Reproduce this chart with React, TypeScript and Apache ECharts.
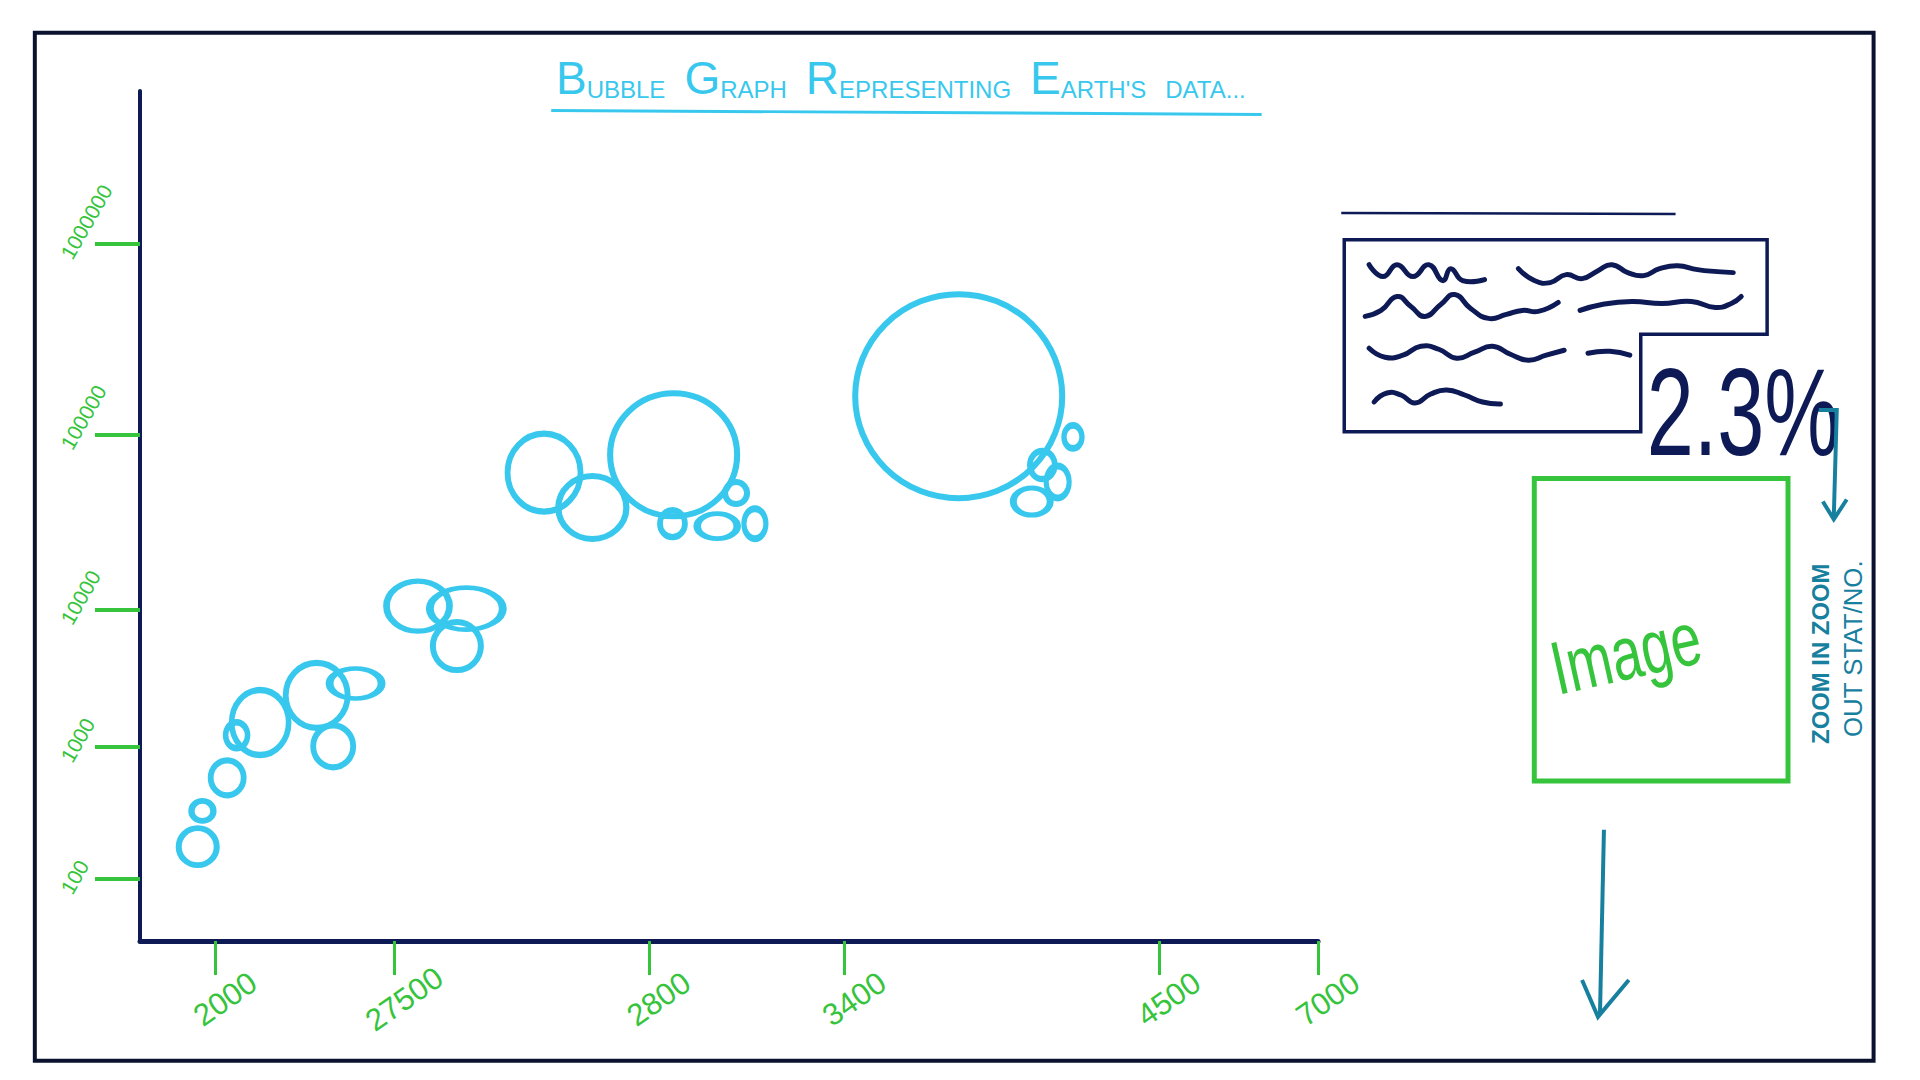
import { useEffect, useRef } from 'react';
import * as echarts from 'echarts';

// bubbles: position on the sketch's own axes (0-100 both ways), size in px
const bubbleX = [4.9, 5.3, 7.4, 8.2, 10.2, 15.0, 18.3, 16.4, 23.6, 27.7, 26.9, 34.3, 38.4, 45.3, 50.6, 45.2, 49.0, 52.2, 69.5, 79.2, 76.6, 77.9, 75.7];
const bubbleY = [11.1, 15.3, 19.2, 24.2, 25.7, 28.9, 30.3, 22.9, 39.4, 39.1, 34.7, 55.1, 51.0, 57.2, 52.7, 49.1, 48.8, 49.1, 64.1, 59.3, 56.0, 54.0, 51.7];
const bubbleW = [38, 22, 33, 22, 57, 62, 52, 40, 63, 73, 48, 73, 68, 127, 22, 25, 40, 22, 207, 18, 25, 23, 37];
const bubbleH = [37, 20, 35, 26, 65, 65, 30, 42, 50, 42, 48, 78, 63, 123, 22, 27, 25, 30, 204, 23, 28, 32, 27];

// hand drawn ticks sit at uneven places
const xTickPos = [6.4, 21.6, 43.2, 59.8, 86.5, 100];
const xTickLabels = ['2000', '27500', '2800', '3400', '4500', '7000'];
const yTickPos = [82.0, 59.6, 39.0, 22.8, 7.3];
const yTickLabels = ['1000000', '100000', '10000', '1000', '100'];

const CYAN = '#38c8ee';
const GREEN = '#35c43c';
const NAVY = '#0d1a55';
const TEAL = '#17809e';
const FRAME = '#0a1230';
const HAND = '"Liberation Sans Narrow", "Liberation Sans", "Noto Sans", sans-serif';
const ELLIPSE = 'path://M0,50A50,50,0,1,1,100,50A50,50,0,1,1,0,50Z';
const K = 0.995; // sheet scale

const pick = (pos: number[], labels: string[]) => (v: number) => {
  const i = pos.findIndex((p) => Math.abs(p - v) < 1e-6);
  return i >= 0 ? labels[i] : '';
};

const squiggles: number[][][] = [
  [[1376, 266], [1390, 278], [1404, 266], [1420, 278], [1436, 266], [1450, 282], [1458, 270], [1470, 282], [1492, 281]],
  [[1526, 270], [1542, 282], [1558, 284], [1574, 276], [1590, 280], [1606, 272], [1620, 266], [1636, 274], [1652, 277], [1668, 270], [1686, 267], [1706, 271], [1726, 273], [1742, 274]],
  [[1372, 318], [1388, 312], [1404, 298], [1418, 308], [1432, 318], [1448, 306], [1462, 296], [1478, 310], [1496, 320], [1514, 316], [1530, 312], [1546, 313], [1566, 304]],
  [[1588, 312], [1610, 306], [1640, 303], [1670, 305], [1700, 303], [1724, 309], [1740, 305], [1750, 298]],
  [[1376, 350], [1392, 359], [1410, 357], [1428, 348], [1446, 351], [1464, 360], [1482, 354], [1500, 348], [1518, 356], [1536, 362], [1554, 357], [1572, 352]],
  [[1596, 355], [1618, 353], [1638, 357]],
  [[1381, 404], [1394, 395], [1408, 397], [1422, 405], [1438, 396], [1454, 392], [1472, 397], [1490, 404], [1508, 406]],
];

export default function App() {
  const ref = useRef<HTMLDivElement>(null);

  useEffect(() => {
    document.body.style.margin = '0';
    if (!ref.current) return;
    const chart = echarts.init(ref.current, null, { renderer: 'svg' });

    const cap = { fontSize: 46, fontWeight: 'normal', fontFamily: HAND, color: CYAN, verticalAlign: 'bottom' };
    const low = { fontSize: 24, fontWeight: 'normal', fontFamily: HAND, color: CYAN, verticalAlign: 'bottom' };

    chart.setOption({
      animation: false,
      backgroundColor: '#ffffff',
      title: {
        left: 551,
        top: 50,
        text: '{c|B}{l|UBBLE}{g| }{c|G}{l|RAPH}{g| }{c|R}{l|EPRESENTING}{g| }{c|E}{l|ARTH\'S}{g| }{l|DATA...}',
        textStyle: {
          fontWeight: 'normal',
          rich: { c: cap, l: low, g: { width: 19, fontSize: 24 } },
        },
      },
      grid: { left: 140, right: 602, top: 91, bottom: 139 },
      xAxis: {
        type: 'value',
        min: 0,
        max: 100,
        splitLine: { show: false },
        axisLine: { show: true, lineStyle: { color: NAVY, width: 5 } },
        axisTick: { show: true, customValues: xTickPos, length: 34, lineStyle: { color: GREEN, width: 3 } },
        axisLabel: {
          customValues: xTickPos,
          formatter: pick(xTickPos, xTickLabels),
          rotate: 35,
          align: 'center',
          verticalAlign: 'middle',
          margin: 65,
          padding: [0, 0, 0, 24],
          color: GREEN,
          fontSize: 31,
          fontFamily: HAND,
        },
      },
      yAxis: {
        type: 'value',
        min: 0,
        max: 100,
        splitLine: { show: false },
        axisLine: { show: true, lineStyle: { color: NAVY, width: 4 } },
        axisTick: { show: true, customValues: yTickPos, length: 45, lineStyle: { color: GREEN, width: 4 } },
        axisLabel: {
          customValues: yTickPos,
          formatter: pick(yTickPos, yTickLabels),
          rotate: 60,
          align: 'left',
          verticalAlign: 'top',
          padding: [16, 0, 0, 0],
          margin: 97,
          color: GREEN,
          fontSize: 21,
          fontFamily: HAND,
        },
      },
      series: [
        {
          type: 'scatter',
          silent: true,
          symbol: ELLIPSE,
          symbolSize: (v: number[]) => [v[2], v[3]],
          data: bubbleX.map((x, i) => [x, bubbleY[i], bubbleW[i], bubbleH[i]]),
          itemStyle: { color: 'rgba(0,0,0,0)', borderColor: CYAN, borderWidth: 6, opacity: 1 },
          emphasis: { disabled: true },
        },
      ],
      graphic: [
        {
          type: 'group',
          scaleX: K,
          scaleY: K,
          children: [
            // sheet frame
            { type: 'rect', shape: { x: 35, y: 33, width: 1848, height: 1033 }, style: { fill: 'none', stroke: FRAME, lineWidth: 4 } },
            // title underline
            { type: 'line', shape: { x1: 554, y1: 111, x2: 1268, y2: 115 }, style: { stroke: CYAN, lineWidth: 3 } },
            // legend-ish box on the right
            { type: 'line', shape: { x1: 1348, y1: 214, x2: 1684, y2: 215 }, style: { stroke: NAVY, lineWidth: 2.5 } },
            {
              type: 'polygon',
              shape: { points: [[1351, 241], [1776, 241], [1776, 336], [1649, 336], [1649, 434], [1351, 434]] },
              style: { fill: 'none', stroke: NAVY, lineWidth: 3.5 },
            },
            ...squiggles.map((pts) => ({
              type: 'polyline',
              shape: { points: pts, smooth: 0.5 },
              style: { fill: null, stroke: NAVY, lineWidth: 5, lineCap: 'round', lineJoin: 'round' },
            })),
            {
              type: 'text',
              x: 1655,
              y: 414,
              scaleX: 0.68,
              style: { text: '2.3%', fontSize: 125, fontFamily: HAND, fill: NAVY, align: 'left', verticalAlign: 'middle' },
            },
            // small hook arrow
            { type: 'polyline', shape: { points: [[1828, 412], [1846, 412], [1843, 520]] }, style: { fill: null, stroke: TEAL, lineWidth: 4 } },
            { type: 'polyline', shape: { points: [[1832, 504], [1843, 522], [1856, 502]] }, style: { fill: null, stroke: TEAL, lineWidth: 4 } },
            // image placeholder
            { type: 'rect', shape: { x: 1542, y: 481, width: 255, height: 304 }, style: { fill: 'none', stroke: GREEN, lineWidth: 5 } },
            {
              type: 'text',
              x: 1634,
              y: 656,
              rotation: 0.22,
              scaleX: 0.72,
              style: { text: 'Image', fontSize: 76, fontFamily: HAND, fill: GREEN, align: 'center', verticalAlign: 'middle' },
            },
            {
              type: 'text',
              x: 1830,
              y: 657,
              rotation: Math.PI / 2,
              style: { text: 'ZOOM IN ZOOM', fontSize: 24, fontWeight: 'bold', fontFamily: HAND, fill: TEAL, align: 'center', verticalAlign: 'middle' },
            },
            {
              type: 'text',
              x: 1862,
              y: 652,
              rotation: Math.PI / 2,
              style: { text: 'OUT STAT/NO.', fontSize: 26, fontFamily: HAND, fill: TEAL, align: 'center', verticalAlign: 'middle' },
            },
            // long arrow down
            { type: 'line', shape: { x1: 1612, y1: 834, x2: 1608, y2: 1020 }, style: { stroke: TEAL, lineWidth: 4 } },
            { type: 'polyline', shape: { points: [[1590, 985], [1606, 1022], [1637, 985]] }, style: { fill: null, stroke: TEAL, lineWidth: 4 } },
          ],
        },
      ],
    });

    return () => chart.dispose();
  }, []);

  return <div ref={ref} style={{ width: 1920, height: 1080 }} />;
}
